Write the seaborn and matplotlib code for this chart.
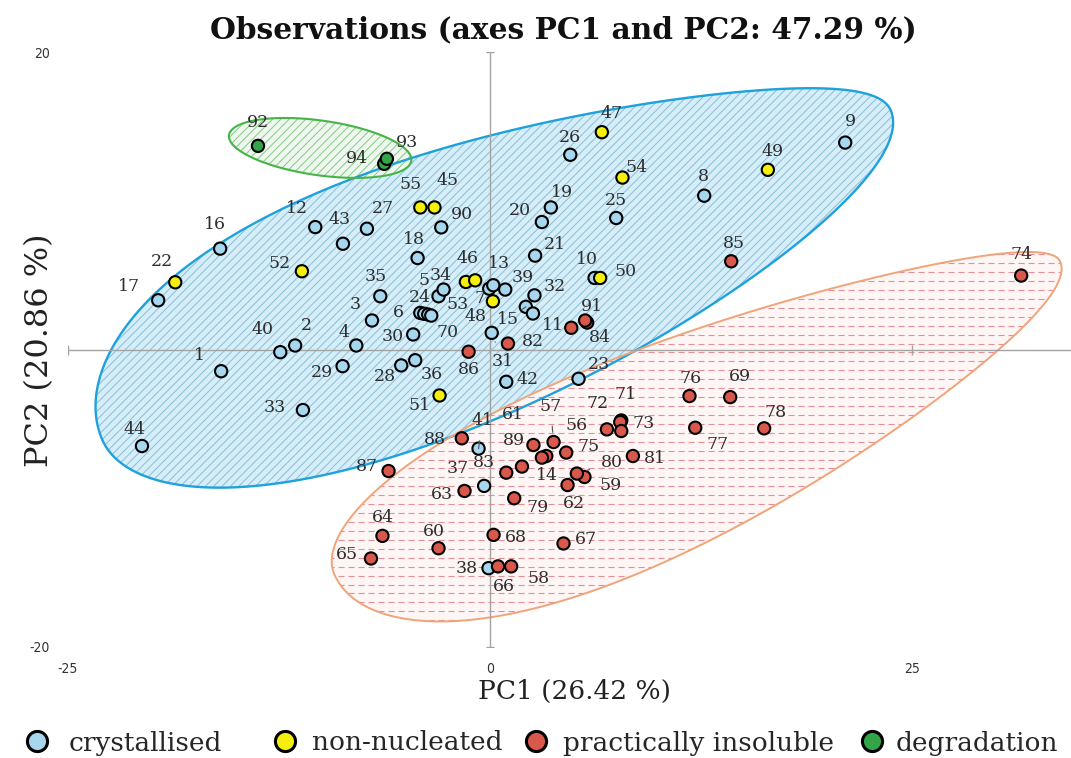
import numpy as np
import pandas as pd
import matplotlib
matplotlib.use("Agg")
import matplotlib.pyplot as plt
from matplotlib.patches import Polygon
from matplotlib.collections import LineCollection
from matplotlib.lines import Line2D
import seaborn as sns

# ---- observation scores on PC1 / PC2, one set of lists per class ----
crystallised_ids = ["1", "2", "3", "4", "5", "6", "8", "9", "10", "12", "48", "13", "15", "16",
                    "17", "18", "19", "20", "21", "23", "24", "25", "26", "27", "28", "29",
                    "30", "31", "32", "33", "34", "35", "36", "37", "38", "39", "40", "41",
                    "42", "43", "44", "53", "70", "90", ""]
crystallised_pc1 = [-15.93, -11.55, -7.00, -7.93, -3.06, -4.14, 12.67, 21.02, 6.18, -10.36, -0.06,
                    0.18, 2.11, -15.99, -19.66, -4.30, 3.59, 3.06, 2.66, 5.23, -3.91, 7.46,
                    4.74, -7.30, -5.27, -8.74, -4.56, 0.09, 2.62, -11.09, -2.76, -6.51, -4.44,
                    -0.36, -0.10, 0.89, -12.43, -0.69, 0.95, -8.72, -20.62, -3.67, -3.49,
                    -2.90, 2.53]
crystallised_pc2 = [-1.46, 0.27, 1.95, 0.27, 3.58, 2.46, 10.34, 13.91, 4.81, 8.23, 4.09, 4.32,
                    2.87, 6.78, 3.31, 6.15, 9.55, 8.57, 6.31, -1.97, 2.40, 8.84, 13.09, 8.12,
                    -1.07, -1.12, 1.01, 1.12, 3.64, -4.07, 4.03, 3.58, -0.72, -9.17, -14.70,
                    4.03, -0.18, -6.66, -2.17, 7.11, -6.49, 2.35, 2.28, 8.21, 2.42]

nonnucleated_ids = ["7", "22", "45", "", "46", "47", "49", "50", "51", "52", "54", "55"]
nonnucleated_pc1 = [0.16, -18.65, -3.30, -1.44, -0.89, 6.61, 16.44, 6.51, -3.00, -11.15, 7.83, -4.14]
nonnucleated_pc2 = [3.24, 4.52, 9.55, 4.54, 4.65, 14.61, 12.08, 4.81, -3.09, 5.26, 11.56, 9.55]

insoluble_ids = ["11", "61", "14", "56", "57", "58", "59", "60", "62", "63", "64", "65", "66",
                 "67", "68", "69", "71", "72", "73", "74", "75", "76", "77", "78", "79", "80",
                 "81", "82", "83", "84", "85", "86", "87", "88", "89", "91", ""]
insoluble_pc1 = [4.80, 3.32, 3.06, 6.91, 3.75, 1.24, 5.58, -3.06, 4.58, -1.52, -6.38, -7.06, 0.46,
                 4.34, 0.20, 14.21, 7.76, 7.70, 7.76, 31.44, 4.50, 11.80, 12.14, 16.22, 1.42,
                 5.13, 8.45, 1.05, 0.95, 5.74, 14.27, -1.28, -6.02, -1.68, 2.56, 5.62, 1.88]
insoluble_pc2 = [1.46, -7.16, -7.27, -5.37, -6.22, -14.58, -8.57, -13.36, -9.11, -9.51, -12.53,
                 -14.05, -14.58, -13.04, -12.46, -3.20, -4.77, -4.88, -5.48, 4.97, -6.93, -3.13,
                 -5.26, -5.30, -10.00, -8.34, -7.16, 0.40, -8.28, 1.81, 5.93, -0.15, -8.17,
                 -5.97, -6.42, 1.95, -7.87]

degradation_ids = ["92", "94", "93"]
degradation_pc1 = [-13.75, -6.28, -6.12]
degradation_pc2 = [13.69, 12.48, 12.82]

class_names = ["crystallised", "non-nucleated", "practically insoluble", "degradation"]
title_text = "Observations (axes PC1 and PC2: 47.29 %)"
xlabel_text = "PC1 (26.42 %)"
ylabel_text = "PC2 (20.86 %)"
xtick_values = [-25, 0, 25]
ytick_values = [-20, 20]

df = pd.concat([
    pd.DataFrame({"obs": crystallised_ids, "PC1": crystallised_pc1, "PC2": crystallised_pc2,
                  "cls": class_names[0]}),
    pd.DataFrame({"obs": nonnucleated_ids, "PC1": nonnucleated_pc1, "PC2": nonnucleated_pc2,
                  "cls": class_names[1]}),
    pd.DataFrame({"obs": insoluble_ids, "PC1": insoluble_pc1, "PC2": insoluble_pc2,
                  "cls": class_names[2]}),
    pd.DataFrame({"obs": degradation_ids, "PC1": degradation_pc1, "PC2": degradation_pc2,
                  "cls": class_names[3]}),
], ignore_index=True)

# ---- styling / layout ----
palette = {"crystallised": "#a6d7ef", "non-nucleated": "#f5ef0c",
           "practically insoluble": "#d9584c", "degradation": "#33a447"}

# label placement around each point, in pixels (right, down)
label_offsets = {
    "1": (-22, -16), "2": (11, -20), "3": (-17, -16), "4": (-12, -13), "5": (-14, -16),
    "6": (-22, 0), "8": (-1, -19), "9": (5, -21), "10": (-8, -18), "12": (-18, -19),
    "13": (6, -22), "15": (-18, 13), "16": (-5, -24), "17": (-29, -14), "18": (-4, -19),
    "19": (11, -15), "20": (-22, -12), "21": (20, -11), "23": (20, -14), "24": (-4, -16),
    "25": (0, -18), "26": (0, -17), "27": (16, -20), "28": (-16, 11), "29": (-21, 6),
    "30": (-21, 2), "31": (11, 29), "32": (20, -9), "33": (-28, -3), "34": (-3, -14),
    "35": (-5, -20), "36": (16, 14), "37": (-26, -17), "38": (-22, 0), "39": (18, -12),
    "40": (-18, -23), "41": (4, -28), "42": (21, -2), "43": (-3, -24), "44": (-7, -17),
    "48": (-14, 28), "53": (29, -10), "70": (16, 17), "90": (21, -13),
    "7": (-13, -3), "22": (-13, -21), "45": (13, -27), "46": (-8, -22), "47": (10, -19),
    "49": (5, -18), "50": (25, -6), "51": (-20, 10), "52": (-22, -8), "54": (14, -10),
    "55": (-10, -23),
    "11": (-18, -2), "14": (5, 18), "56": (-30, -4), "57": (-3, -36), "58": (27, 12),
    "59": (26, 9), "60": (-5, -17), "61": (-33, -42), "62": (6, 18), "63": (-23, 4),
    "64": (0, -18), "65": (-24, -4), "66": (6, 20), "67": (22, -4), "68": (22, 3),
    "69": (10, -21), "71": (4, -26), "72": (-23, -19), "73": (22, -8), "74": (0, -21),
    "75": (22, -6), "76": (1, -18), "77": (22, 17), "78": (11, -16), "79": (23, 9),
    "80": (35, -11), "81": (22, 2), "82": (25, -2), "83": (-22, -10), "84": (13, 15),
    "85": (3, -18), "86": (0, 18), "87": (-22, -5), "88": (-27, 1), "89": (-20, -4),
    "91": (7, -14),
    "92": (0, -23), "93": (20, -16), "94": (-27, -5),
}
leader_labels = {"31", "41", "57", "15", "80"}

sns.set_theme(style="white")
plt.rcParams["font.family"] = ["DejaVu Serif", "DejaVu Sans"]
plt.rcParams["hatch.linewidth"] = 0.7

W, H, DPI = 1071, 758, 100
fig = plt.figure(figsize=(W / DPI, H / DPI), dpi=DPI)
ax_left, ax_bottom, ax_w, ax_h = 68 / W, 1 - 647 / H, (W - 68) / W, (647 - 52) / H
ax = fig.add_axes([ax_left, ax_bottom, ax_w, ax_h])
xmin, xmax, ymin, ymax = -25, 34.39, -20, 20
ax.set_xlim(xmin, xmax)
ax.set_ylim(ymin, ymax)

# pixels per data unit, used to draw shapes that keep their on-screen form
sx = W * ax_w / (xmax - xmin)
sy = H * ax_h / (ymax - ymin)


def egg(cx, cy, a, b_up, b_down, theta, k_up, k_down, n=600):
    """Closed tapered oval: blunt towards -u, pointed towards +u."""
    t = np.linspace(0, 2 * np.pi, n)
    u = a * np.cos(t)
    s = np.sin(t)
    b = np.where(s >= 0, b_up, b_down)
    k = np.where(s >= 0, k_up, k_down)
    v = b * s * (1 - k * np.cos(t))
    th = np.radians(theta)
    X = u * np.cos(th) - v * np.sin(th)
    Y = u * np.sin(th) + v * np.cos(th)
    return np.column_stack([cx + X, cy + Y * sx / sy])


# class regions
blue_shape = egg(0.36, 5.04, 25.3, 8.1, 7.8, 22.6, 0.35, 0.15)
red_shape = egg(12.26, -4.6, 23.4, 5.0, 6.8, 23.3, 0.3, 0.3)
green_shape = egg(-10.07, 13.55, 5.45, 1.62, 1.62, -8.0, 0.0, 0.0)

ax.add_patch(Polygon(blue_shape, closed=True, facecolor="#d5eef9", edgecolor="#8dbdd4",
                     lw=0, hatch="////", zorder=1))
ax.add_patch(Polygon(blue_shape, closed=True, fill=False, edgecolor="#1ea1dc", lw=1.7, zorder=1.2))

red_fill = Polygon(red_shape, closed=True, facecolor="#fdf6f5", edgecolor="none", lw=0, zorder=1)
ax.add_patch(red_fill)
hatch_y = np.arange(-20, 20, 0.6)
segs = [[(xmin, y), (xmax, y)] for y in hatch_y]
lc = LineCollection(segs, colors="#e48f99", linewidths=0.8, linestyles=[(0, (5.5, 3.5))], zorder=1.1)
ax.add_collection(lc)
lc.set_clip_path(red_fill)
ax.add_patch(Polygon(red_shape, closed=True, fill=False, edgecolor="#f0a47a", lw=1.4, zorder=1.2))

ax.add_patch(Polygon(green_shape, closed=True, facecolor="#eef8ee", edgecolor="#86c986",
                     lw=0, hatch="////", zorder=1))
ax.add_patch(Polygon(green_shape, closed=True, fill=False, edgecolor="#46b447", lw=1.5, zorder=1.2))

# axes through the origin
axis_col = "#a3a3a3"
ax.axhline(0, color=axis_col, lw=1.0, zorder=2)
ax.axvline(0, color=axis_col, lw=1.0, zorder=2)
ax.plot([0, 0], ytick_values, ls="none", marker="_", ms=6, mew=1.0, color=axis_col, zorder=2)
ax.plot(xtick_values, [0] * len(xtick_values), ls="none", marker="|", ms=7, mew=1.0,
        color=axis_col, zorder=2)

sns.scatterplot(data=df, x="PC1", y="PC2", hue="cls", palette=palette, hue_order=class_names,
                s=78, edgecolor="black", linewidth=1.5, legend=False, ax=ax, zorder=4)

for _, r in df.iterrows():
    if not r["obs"]:
        continue
    dx, dy = label_offsets.get(r["obs"], (0, -18))
    kw = {}
    if r["obs"] in leader_labels:
        kw["arrowprops"] = dict(arrowstyle="-", color="#555555", lw=0.8, shrinkA=6, shrinkB=7)
    ax.annotate(r["obs"], (r["PC1"], r["PC2"]), xytext=(dx, -dy), textcoords="offset pixels",
                ha="center", va="center", fontsize=12.5, color="#2e2e2e", zorder=5, **kw)

for sp in ax.spines.values():
    sp.set_visible(False)
ax.set_xticks(xtick_values)
ax.set_xticklabels([str(v) for v in xtick_values])
ax.set_yticks(ytick_values)
ax.set_yticklabels([str(v) for v in ytick_values])
ax.tick_params(length=0, labelsize=10, labelcolor="#333333")
ax.tick_params(axis="x", pad=11)
ax.tick_params(axis="y", pad=13)
for lab in ax.get_xticklabels() + ax.get_yticklabels():
    lab.set_fontfamily("DejaVu Sans")
    lab.set_fontstretch("condensed")
ax.set_xlabel("")
ax.set_ylabel("")

fig.text(563 / W, 1 - 30 / H, title_text, ha="center", va="center", fontsize=21.3,
         fontweight="bold", color="#111111")
fig.text(575 / W, 1 - 691 / H, xlabel_text, ha="center", va="center", fontsize=19, color="#222222")
fig.text(40 / W, 1 - 350 / H, ylabel_text, ha="center", va="center", fontsize=23,
         rotation=90, color="#222222")

# legend, one entry per class placed along the bottom
legend_fs = 19
em_px = legend_fs * DPI / 72
marker_centres_px = [37, 285, 536, 872]
text_gaps_px = [32, 27, 27, 24]
for cname, mx, gap in zip(class_names, marker_centres_px, text_gaps_px):
    h = Line2D([], [], ls="none", marker="o", markersize=14.5, markerfacecolor=palette[cname],
               markeredgecolor="black", markeredgewidth=2.2)
    handle_len = 1.0
    left_px = mx - handle_len * em_px / 2
    pad = (gap - handle_len * em_px / 2) / em_px
    fig.legend([h], [cname], loc="center left", bbox_to_anchor=(left_px / W, 1 - 743 / H),
               frameon=False, fontsize=legend_fs, handletextpad=pad, handlelength=handle_len,
               borderpad=0, borderaxespad=0)

fig.savefig("out.png", dpi=DPI)
